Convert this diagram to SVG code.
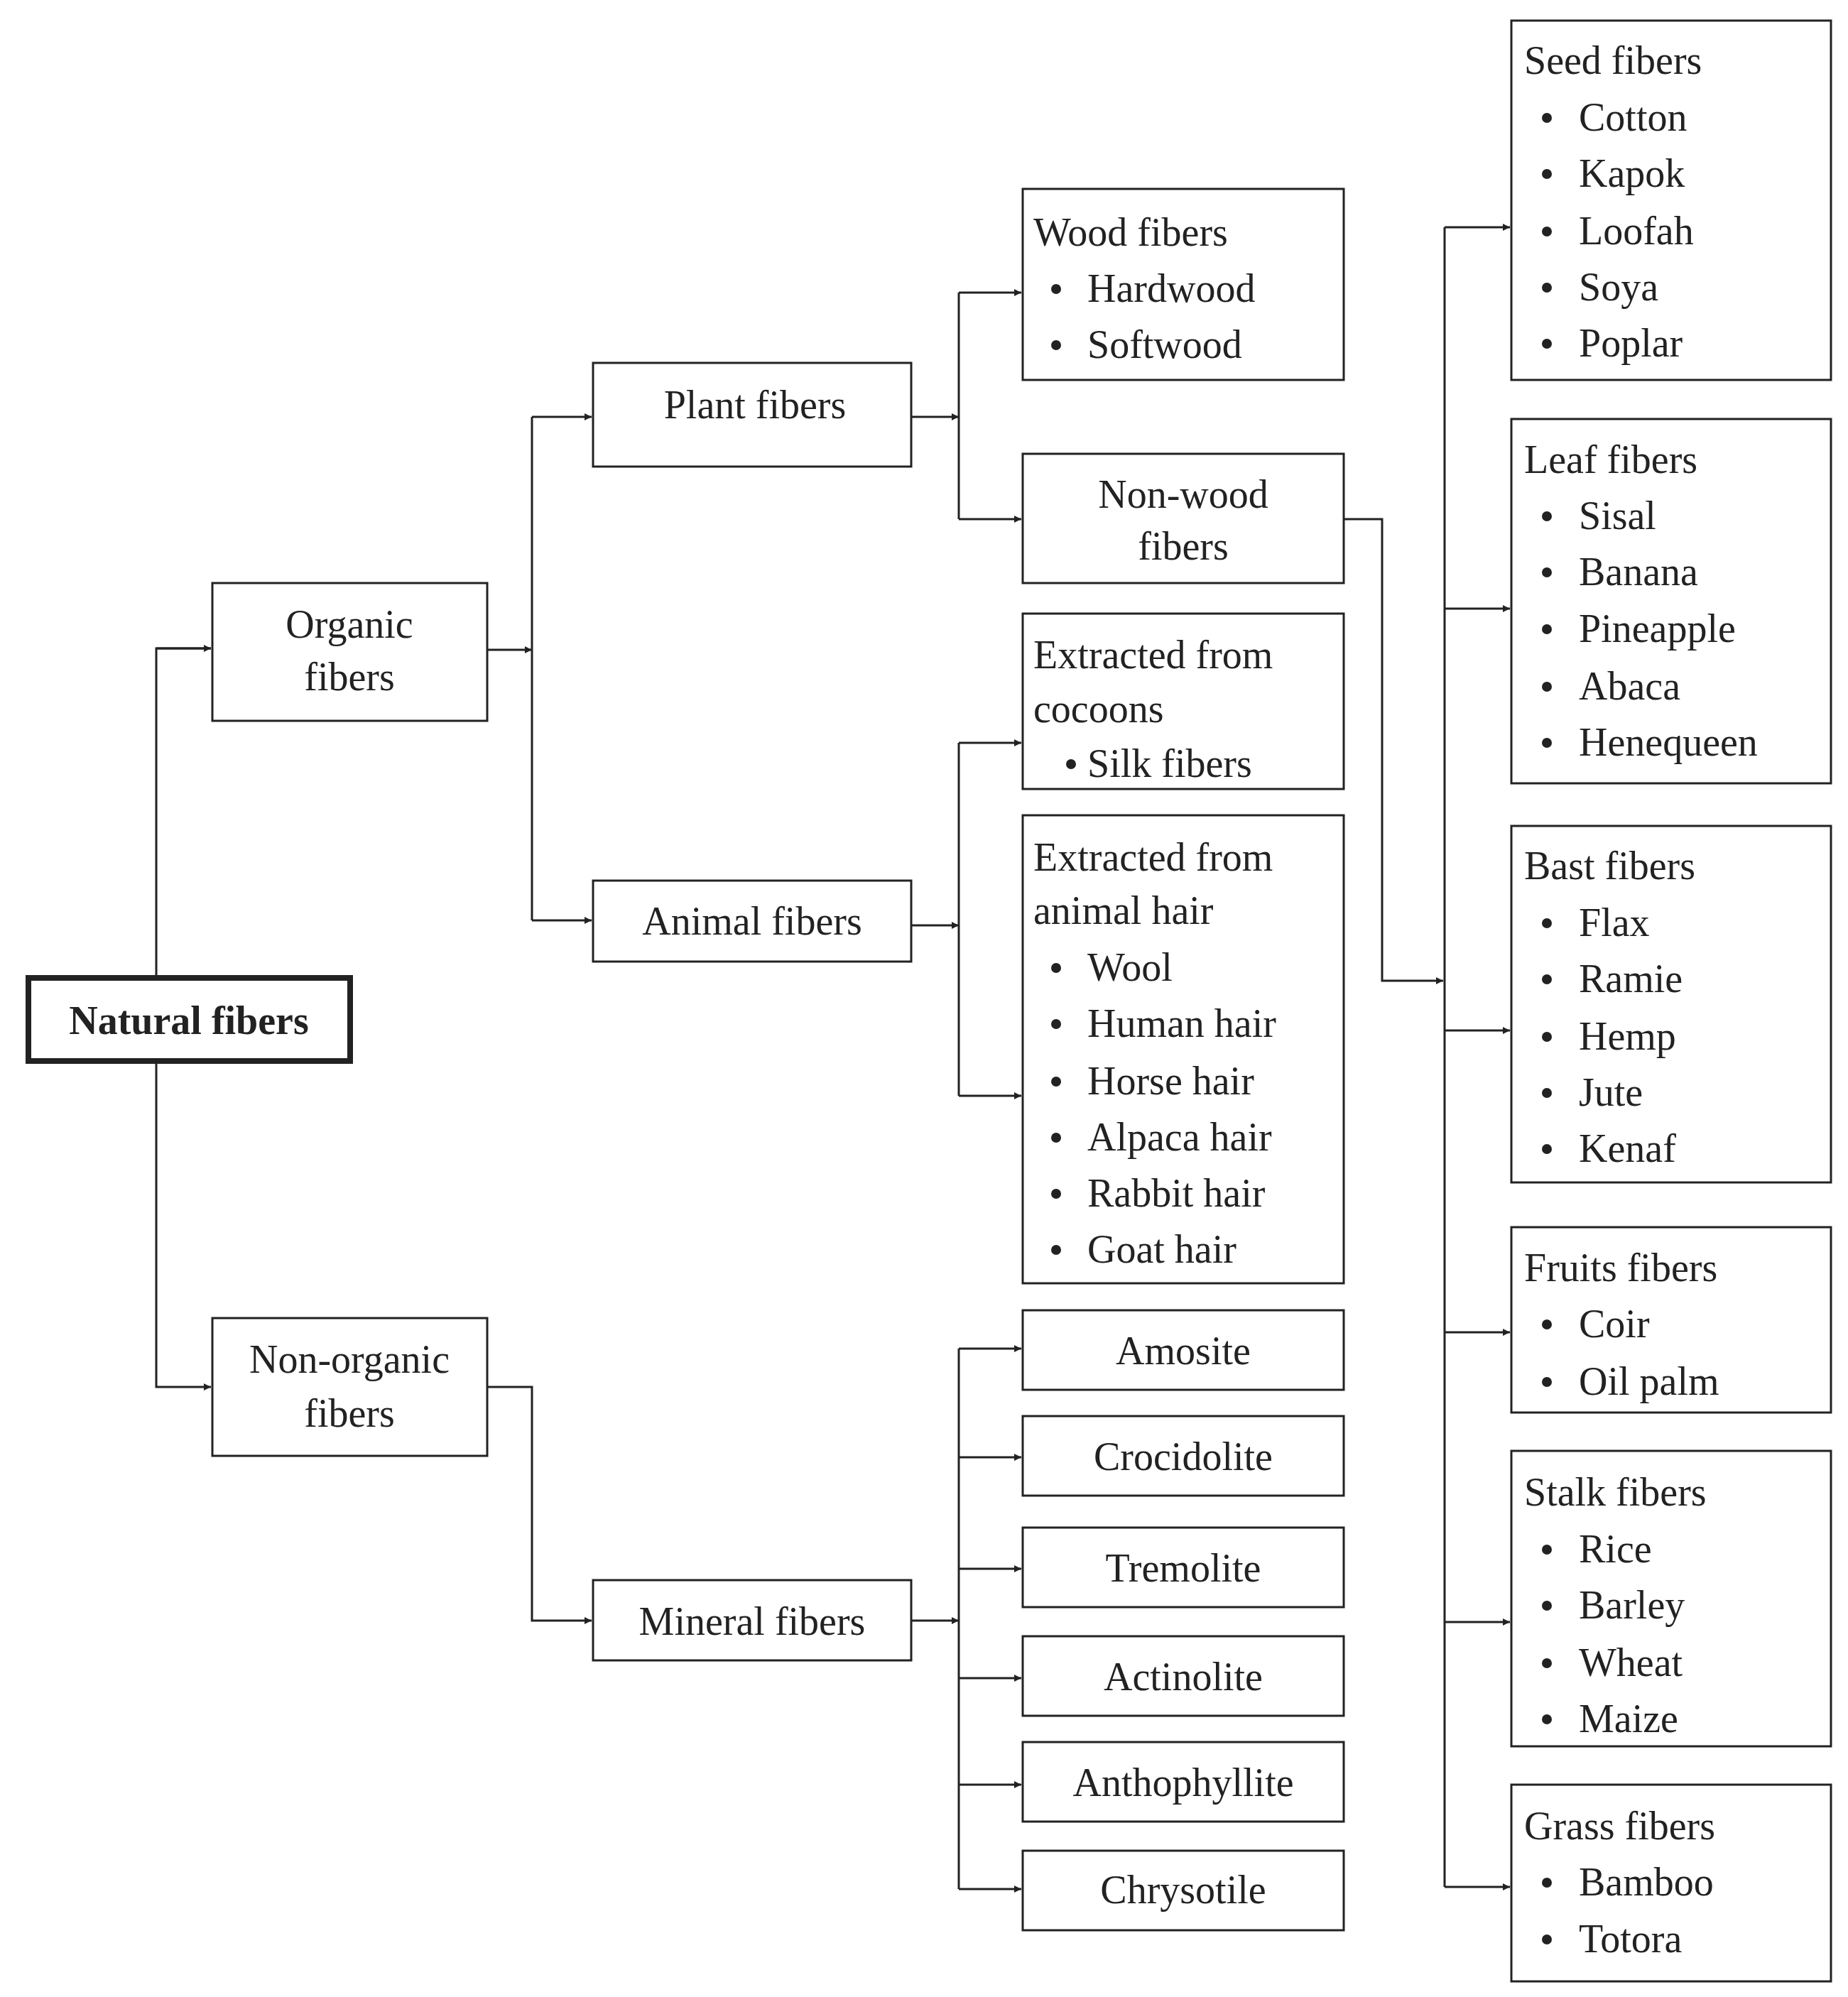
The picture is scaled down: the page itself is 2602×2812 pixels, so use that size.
<svg xmlns="http://www.w3.org/2000/svg" width="2602" height="2812" viewBox="0 0 2602 2812">
<style>
rect{fill:#fff;stroke:#222;stroke-width:3}
text{font-family:"Liberation Serif",serif;font-size:56px;fill:#222}
.c{text-anchor:middle}
#conn path{fill:none;stroke:#222;stroke-width:3}
circle{fill:#222}
</style>
<defs><marker id="a" viewBox="0 0 10 10" refX="10" refY="5" markerWidth="10" markerHeight="10" markerUnits="userSpaceOnUse" orient="auto"><path d="M0,0L10,5L0,10z" fill="#222"/></marker></defs>
<rect width="2602" height="2812" style="fill:#fff;stroke:none"/>
<g id="conn">
<path d="M220,1377V913H297" marker-end="url(#a)" style="marker-end:none"/>
<path d="M220,913H297" style="marker-end:url(#a)"/>
<path d="M220,1494V1953H297" style="marker-end:url(#a)"/>
<path d="M686,915H749" style="marker-end:url(#a)"/>
<path d="M749,587V1296"/>
<path d="M749,587H833" style="marker-end:url(#a)"/>
<path d="M749,1296H833" style="marker-end:url(#a)"/>
<path d="M686,1953H749V2282H833" style="marker-end:url(#a)"/>
<path d="M1283,587H1350" style="marker-end:url(#a)"/>
<path d="M1350,412V731"/>
<path d="M1350,412H1438" style="marker-end:url(#a)"/>
<path d="M1350,731H1438" style="marker-end:url(#a)"/>
<path d="M1283,1303H1350" style="marker-end:url(#a)"/>
<path d="M1350,1046V1543"/>
<path d="M1350,1046H1438" style="marker-end:url(#a)"/>
<path d="M1350,1543H1438" style="marker-end:url(#a)"/>
<path d="M1283,2282H1350" style="marker-end:url(#a)"/>
<path d="M1350,1899V2660"/>
<path d="M1350,1899H1438" style="marker-end:url(#a)"/>
<path d="M1350,2052H1438" style="marker-end:url(#a)"/>
<path d="M1350,2209H1438" style="marker-end:url(#a)"/>
<path d="M1350,2363H1438" style="marker-end:url(#a)"/>
<path d="M1350,2513H1438" style="marker-end:url(#a)"/>
<path d="M1350,2660H1438" style="marker-end:url(#a)"/>
<path d="M1892,731H1946V1381H2032" style="marker-end:url(#a)"/>
<path d="M2034,320V2657"/>
<path d="M2034,320H2126" style="marker-end:url(#a)"/>
<path d="M2034,857H2126" style="marker-end:url(#a)"/>
<path d="M2034,1451H2126" style="marker-end:url(#a)"/>
<path d="M2034,1876H2126" style="marker-end:url(#a)"/>
<path d="M2034,2284H2126" style="marker-end:url(#a)"/>
<path d="M2034,2657H2126" style="marker-end:url(#a)"/>
</g>
<g id="natural"><rect x="40" y="1377" width="453" height="117" style="stroke-width:8"/><text class="c" x="266" y="1456" font-weight="bold">Natural fibers</text></g>
<g id="organic"><rect x="299" y="821" width="387" height="194"/><text class="c" x="492" y="898">Organic</text><text class="c" x="492" y="972">fibers</text></g>
<g id="nonorganic"><rect x="299" y="1856" width="387" height="194"/><text class="c" x="492" y="1933">Non-organic</text><text class="c" x="492" y="2009">fibers</text></g>
<g id="plant"><rect x="835" y="511" width="448" height="146"/><text class="c" x="1063" y="589">Plant fibers</text></g>
<g id="animal"><rect x="835" y="1240" width="448" height="114"/><text class="c" x="1059" y="1316">Animal fibers</text></g>
<g id="mineral"><rect x="835" y="2225" width="448" height="113"/><text class="c" x="1059" y="2302">Mineral fibers</text></g>
<g id="wood"><rect x="1440" y="266" width="452" height="269"/><text x="1455" y="346">Wood fibers</text><circle cx="1487" cy="407" r="7"/><text x="1531" y="425">Hardwood</text><circle cx="1487" cy="486" r="7"/><text x="1531" y="504">Softwood</text></g>
<g id="nonwood"><rect x="1440" y="639" width="452" height="182"/><text class="c" x="1666" y="715">Non-wood</text><text class="c" x="1666" y="788">fibers</text></g>
<g id="cocoons"><rect x="1440" y="864" width="452" height="247"/><text x="1455" y="941">Extracted from</text><text x="1455" y="1017">cocoons</text><circle cx="1508" cy="1076" r="7"/><text x="1531" y="1094">Silk fibers</text></g>
<g id="hair"><rect x="1440" y="1148" width="452" height="659"/><text x="1455" y="1226">Extracted from</text><text x="1455" y="1301">animal hair</text>
<circle cx="1487" cy="1363" r="7"/><text x="1531" y="1381">Wool</text>
<circle cx="1487" cy="1442" r="7"/><text x="1531" y="1460">Human hair</text>
<circle cx="1487" cy="1523" r="7"/><text x="1531" y="1541">Horse hair</text>
<circle cx="1487" cy="1602" r="7"/><text x="1531" y="1620">Alpaca hair</text>
<circle cx="1487" cy="1681" r="7"/><text x="1531" y="1699">Rabbit hair</text>
<circle cx="1487" cy="1760" r="7"/><text x="1531" y="1778">Goat hair</text></g>
<g id="amosite"><rect x="1440" y="1845" width="452" height="112"/><text class="c" x="1666" y="1921">Amosite</text></g>
<g id="crocidolite"><rect x="1440" y="1994" width="452" height="112"/><text class="c" x="1666" y="2070">Crocidolite</text></g>
<g id="tremolite"><rect x="1440" y="2151" width="452" height="112"/><text class="c" x="1666" y="2227">Tremolite</text></g>
<g id="actinolite"><rect x="1440" y="2304" width="452" height="112"/><text class="c" x="1666" y="2380">Actinolite</text></g>
<g id="anthophyllite"><rect x="1440" y="2453" width="452" height="112"/><text class="c" x="1666" y="2529">Anthophyllite</text></g>
<g id="chrysotile"><rect x="1440" y="2606" width="452" height="112"/><text class="c" x="1666" y="2680">Chrysotile</text></g>
<g id="seed"><rect x="2128" y="29" width="450" height="506"/><text x="2146" y="104">Seed fibers</text>
<circle cx="2178" cy="166" r="7"/><text x="2223" y="184">Cotton</text>
<circle cx="2178" cy="245" r="7"/><text x="2223" y="263">Kapok</text>
<circle cx="2178" cy="326" r="7"/><text x="2223" y="344">Loofah</text>
<circle cx="2178" cy="405" r="7"/><text x="2223" y="423">Soya</text>
<circle cx="2178" cy="484" r="7"/><text x="2223" y="502">Poplar</text></g>
<g id="leaf"><rect x="2128" y="590" width="450" height="513"/><text x="2146" y="666">Leaf fibers</text>
<circle cx="2178" cy="727" r="7"/><text x="2223" y="745">Sisal</text>
<circle cx="2178" cy="806" r="7"/><text x="2223" y="824">Banana</text>
<circle cx="2178" cy="886" r="7"/><text x="2223" y="904">Pineapple</text>
<circle cx="2178" cy="967" r="7"/><text x="2223" y="985">Abaca</text>
<circle cx="2178" cy="1046" r="7"/><text x="2223" y="1064">Henequeen</text></g>
<g id="bast"><rect x="2128" y="1163" width="450" height="502"/><text x="2146" y="1238">Bast fibers</text>
<circle cx="2178" cy="1300" r="7"/><text x="2223" y="1318">Flax</text>
<circle cx="2178" cy="1379" r="7"/><text x="2223" y="1397">Ramie</text>
<circle cx="2178" cy="1460" r="7"/><text x="2223" y="1478">Hemp</text>
<circle cx="2178" cy="1539" r="7"/><text x="2223" y="1557">Jute</text>
<circle cx="2178" cy="1618" r="7"/><text x="2223" y="1636">Kenaf</text></g>
<g id="fruits"><rect x="2128" y="1728" width="450" height="261"/><text x="2146" y="1804">Fruits fibers</text>
<circle cx="2178" cy="1865" r="7"/><text x="2223" y="1883">Coir</text>
<circle cx="2178" cy="1946" r="7"/><text x="2223" y="1964">Oil palm</text></g>
<g id="stalk"><rect x="2128" y="2043" width="450" height="416"/><text x="2146" y="2120">Stalk fibers</text>
<circle cx="2178" cy="2182" r="7"/><text x="2223" y="2200">Rice</text>
<circle cx="2178" cy="2261" r="7"/><text x="2223" y="2279">Barley</text>
<circle cx="2178" cy="2342" r="7"/><text x="2223" y="2360">Wheat</text>
<circle cx="2178" cy="2421" r="7"/><text x="2223" y="2439">Maize</text></g>
<g id="grass"><rect x="2128" y="2513" width="450" height="277"/><text x="2146" y="2590">Grass fibers</text>
<circle cx="2178" cy="2651" r="7"/><text x="2223" y="2669">Bamboo</text>
<circle cx="2178" cy="2731" r="7"/><text x="2223" y="2749">Totora</text></g>
</svg>
